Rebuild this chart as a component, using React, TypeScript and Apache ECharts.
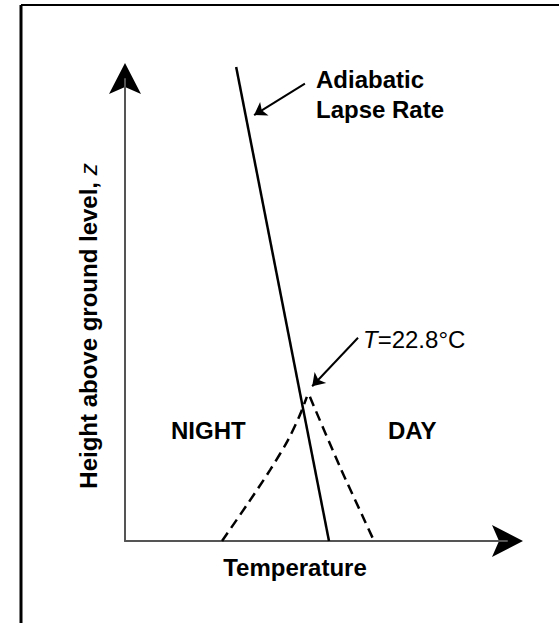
import React, { useEffect, useRef } from "react";
import * as echarts from "echarts";

// Data in arbitrary axis units: x = temperature (0..100), y = height (0..100)
const adiabaticX = [29.1, 53.4];
const adiabaticY = [102.6, 0];
const nightX = [25.4, 31.9, 38.0, 42.7, 45.8, 47.6];
const nightY = [0, 7.8, 15.4, 21.9, 27.3, 31.2];
const dayX = [48.4, 56.3, 62.3, 65.2];
const dayY = [31.2, 16.0, 5.2, 0];
// annotation arrows [fromX, fromY, toX, toY]
const lapseArrow = [47.1, 99.0, 33.8, 92.2];
const tempArrow = [61.0, 44.0, 49.0, 33.5];

const zip = (xs: number[], ys: number[]) => xs.map((x, i) => [x, ys[i]]);

export default function App() {
  const ref = useRef<HTMLDivElement>(null);
  useEffect(() => {
    document.body.style.margin = "0";
    const chart = echarts.init(ref.current!, null, { renderer: "svg" });
    const font = "'Liberation Sans', Arial, sans-serif";
    const axisCommon = {
      type: "value",
      min: 0,
      max: 100,
      axisLine: { show: true, onZero: false, lineStyle: { color: "#555", width: 2 } },
      axisTick: { show: false },
      axisLabel: { show: false },
      splitLine: { show: false },
    };
    chart.setOption({
      animation: false,
      backgroundColor: "#fff",
      grid: { left: 125, right: 52, top: 79, bottom: 82 },
      xAxis: axisCommon,
      yAxis: axisCommon,
      series: [
        {
          type: "line",
          data: zip(adiabaticX, adiabaticY),
          showSymbol: false,
          clip: false,
          lineStyle: { color: "#000", width: 2.5 },
        },
        {
          type: "line",
          data: zip(nightX, nightY),
          showSymbol: false,
          smooth: 0.3,
          clip: false,
          lineStyle: { color: "#000", width: 2.5, type: [10, 6] },
        },
        {
          type: "line",
          data: zip(dayX, dayY),
          showSymbol: false,
          smooth: 0.3,
          clip: false,
          lineStyle: { color: "#000", width: 2.5, type: [10, 6] },
        },
        {
          type: "lines",
          coordinateSystem: "cartesian2d",
          symbol: ["none", "arrow"],
          symbolSize: 12,
          lineStyle: { color: "#000", width: 2, opacity: 1 },
          data: [
            { coords: [[lapseArrow[0], lapseArrow[1]], [lapseArrow[2], lapseArrow[3]]] },
            { coords: [[tempArrow[0], tempArrow[1]], [tempArrow[2], tempArrow[3]]] },
          ],
        },
      ],
      graphic: [
        { type: "line", shape: { x1: 21, y1: 5, x2: 21, y2: 623 }, style: { stroke: "#000", lineWidth: 3 } },
        { type: "line", shape: { x1: 21, y1: 5, x2: 559, y2: 5 }, style: { stroke: "#000", lineWidth: 2 } },
        {
          type: "polygon",
          shape: { points: [[125, 63], [141, 94], [125, 87], [109, 94]] },
          style: { fill: "#000" },
        },
        {
          type: "polygon",
          shape: { points: [[523, 541], [492, 525], [499, 541], [492, 557]] },
          style: { fill: "#000" },
        },
        {
          type: "text",
          x: 316,
          y: 64,
          style: { text: "Adiabatic\nLapse Rate", font: `bold 24px ${font}`, fill: "#000", lineHeight: 30 },
        },
        {
          type: "text",
          x: 363,
          y: 327,
          style: {
            rich: {
              i: { font: `italic 24px ${font}`, fill: "#000" },
              n: { font: `24px ${font}`, fill: "#000" },
            },
            text: "{i|T}{n|=22.8°C}",
          },
        },
        { type: "text", x: 171, y: 418, style: { text: "NIGHT", font: `bold 24px ${font}`, fill: "#000" } },
        { type: "text", x: 388, y: 418, style: { text: "DAY", font: `bold 24px ${font}`, fill: "#000" } },
        {
          type: "text",
          x: 295,
          y: 567,
          style: { text: "Temperature", font: `bold 24px ${font}`, fill: "#000", align: "center", verticalAlign: "middle" },
        },
        {
          type: "text",
          x: 88,
          y: 326,
          rotation: Math.PI / 2,
          style: {
            rich: {
              b: { font: `bold 24px ${font}`, fill: "#000" },
              i: { font: `italic 24px ${font}`, fill: "#000" },
            },
            text: "{b|Height above ground level, }{i|z}",
            align: "center",
            verticalAlign: "middle",
          },
        },
      ],
    });
    return () => chart.dispose();
  }, []);
  return <div ref={ref} style={{ width: 559, height: 623 }} />;
}
